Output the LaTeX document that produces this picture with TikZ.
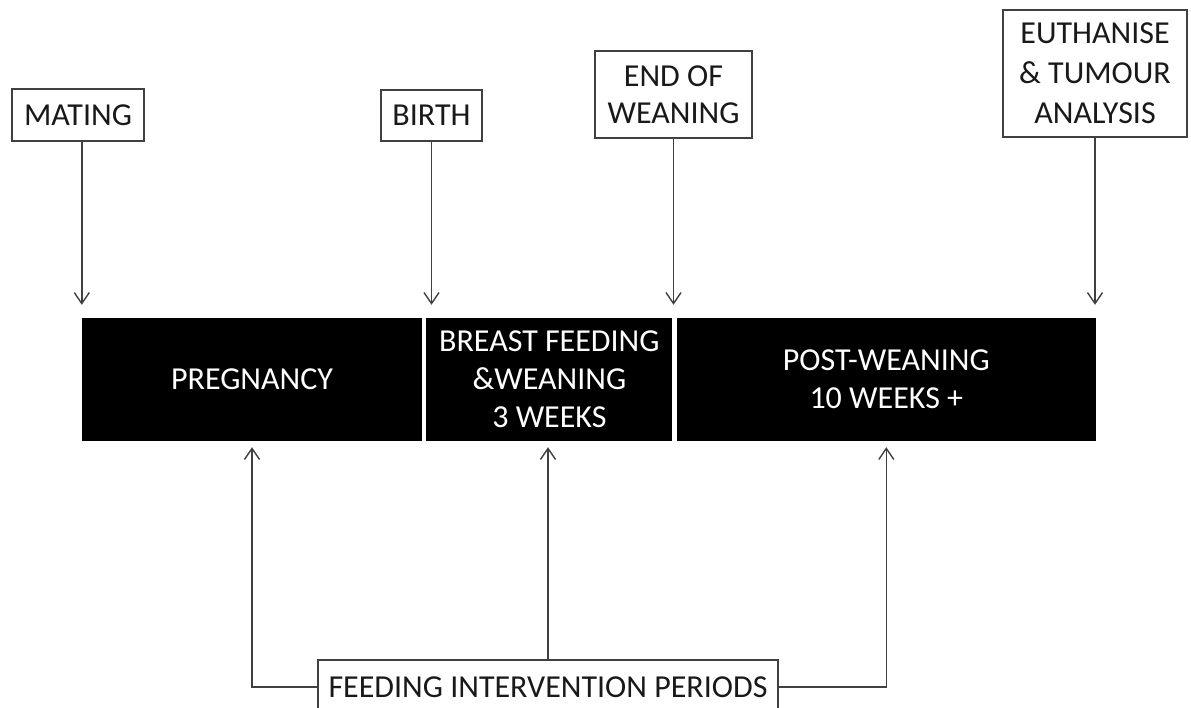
\documentclass[tikz,border=0pt]{standalone}
\usepackage{fontspec}
\setmainfont{Carlito}
\usetikzlibrary{shapes,arrows,arrows.meta,positioning}
\definecolor{linegray}{HTML}{404040}
\tikzstyle{event} = [rectangle, draw=linegray, line width=1.4pt, text=black!90,
    align=center, inner sep=0pt, font=\fontsize{32}{37}\selectfont]
\tikzstyle{period} = [rectangle, fill=black, text=white, align=center,
    inner sep=0pt, minimum height=123pt, font=\fontsize{32}{38}\selectfont]
\tikzstyle{line} = [draw=linegray, line width=1.4pt,
    -{Straight Barb[length=11pt,width=15pt,line width=1.4pt]}]

\begin{document}
\begin{tikzpicture}[x=1pt, y=-1pt]
		\useasboundingbox (0,0) rectangle (1191,708);
		% time line
		\node [period, minimum width=340pt] (preg) at (252,379.5) {PREGNANCY};
		\node [period, minimum width=246pt, right=4pt of preg] (feed) {BREAST FEEDING\\\&WEANING\\3 WEEKS};
		\node [period, minimum width=419pt, right=4pt of feed] (post) {POST-WEANING\\10 WEEKS +};
		
		% events
		\node [event, minimum width=132pt, minimum height=52pt] (mating) at (78,115) {MATING};
		\node [event, minimum width=101pt, minimum height=51pt] (birth) at (431.5,115.5) {BIRTH};
		\node [event, minimum width=157pt, minimum height=87pt] (endwean) at (673.5,94.5) {END OF\\WEANING};
		\node [event, minimum width=184pt, minimum height=127pt, font=\fontsize{32}{40}\selectfont] (euth) at (1095,73.5) {EUTHANISE\\\& TUMOUR\\ANALYSIS};
		\node [event, minimum width=460pt, minimum height=54pt] (interv) at (548,687) {FEEDING INTERVENTION PERIODS};
		
		\path [line, shorten >=13pt] (mating.south -| preg.west) -- (preg.north west);
		\path [line, shorten >=13pt] (birth) -- (birth |- preg.north);
		\path [line, shorten >=13pt] (endwean) -- (endwean |- feed.north);
		\path [line, shorten >=13pt] (euth) -- (euth |- post.north);
		
		\path [line, shorten >=6pt] (interv.west) -| (preg.south);
		\path [line, shorten >=6pt] (interv.north) -- (interv.north |- feed.south);
		\path [line, shorten >=6pt] (interv.east) -| (post.south);
	\end{tikzpicture}
\end{document}
